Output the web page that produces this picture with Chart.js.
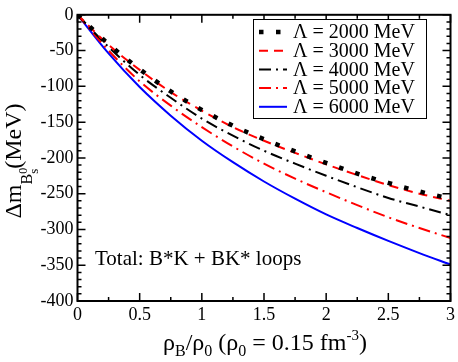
<!DOCTYPE html>
<html>
<head>
<meta charset="utf-8">
<script src="https://cdn.jsdelivr.net/npm/chart.js@4.4.1/dist/chart.umd.min.js"></script>
<style>
   html, body { margin: 0; padding: 0; background: #fff; }
   #wrap { width: 458px; height: 362px; }
   .fontwarm { position: absolute; left: -999px; top: 0; font-family: "Liberation Serif", serif; font-size: 20px; }
</style>
</head>
<body>
<span class="fontwarm">&#923; = 2000 MeV &#961; &#916;m</span>
<div id="wrap"><canvas id="shiftChart" width="458" height="362"></canvas></div>
<script>
// density rho_B / rho_0
const densities = [0, 0.25, 0.5, 0.75, 1, 1.25, 1.5, 1.75, 2, 2.25, 2.5, 2.75, 3];

// mass shift of B_s^0 (MeV), one list per cutoff
const shift2000 = [0, -41, -76, -107, -133, -155, -174, -191, -207, -222, -235, -247, -257];
const shift3000 = [0, -42, -77, -108, -134, -157, -176, -193, -209, -224, -238, -250, -260];
const shift4000 = [0, -45, -84, -116, -145, -169, -190, -208, -225, -241, -256, -268, -280];
const shift5000 = [0, -50, -93, -127, -157, -184, -208, -229, -248, -266, -283, -298, -312];
const shift6000 = [0, -54, -101, -141, -176, -206, -233, -257, -279, -298, -316, -333, -349];

const legendLabels = ["\u039B = 2000 MeV", "\u039B = 3000 MeV", "\u039B = 4000 MeV", "\u039B = 5000 MeV", "\u039B = 6000 MeV"];
const xTicks = [0, 0.5, 1, 1.5, 2, 2.5, 3];
const yTicks = [0, -50, -100, -150, -200, -250, -300, -350, -400];

const SERIF = "'Liberation Serif', 'Times New Roman', 'DejaVu Serif', serif";

const toPoints = (arr) => arr.map((v, i) => ({ x: densities[i], y: v }));

// draws a row of text pieces (sub / superscripts) centred on cx
function richText(ctx, pieces, cx, cy) {
   let total = 0;
   pieces.forEach((p) => {
      ctx.font = p.size + "px " + SERIF;
      if (p.adv !== false) total += ctx.measureText(p.t).width;
   });
   let x = cx - total / 2;
   pieces.forEach((p) => {
      ctx.font = p.size + "px " + SERIF;
      ctx.fillText(p.t, x, cy + (p.dy || 0));
      if (p.adv !== false) x += ctx.measureText(p.t).width;
   });
}

const decor = {
   id: "decor",
   afterDraw(chart) {
      const { ctx, chartArea: a, scales } = chart;
      const xs = scales.x;
      const ys = scales.y;
      ctx.save();

      // frame
      ctx.strokeStyle = "#000";
      ctx.lineWidth = 2;
      ctx.strokeRect(a.left, a.top, a.right - a.left, a.bottom - a.top);

      // inward ticks on all four sides
      ctx.lineWidth = 1.5;
      ctx.beginPath();
      for (let i = 0; i <= 12; i++) {
         const px = xs.getPixelForValue(i * 0.25);
         const len = i % 2 === 0 ? 8 : 4;
         ctx.moveTo(px, a.bottom); ctx.lineTo(px, a.bottom - len);
         ctx.moveTo(px, a.top); ctx.lineTo(px, a.top + len);
      }
      for (let i = 0; i <= 40; i++) {
         const py = ys.getPixelForValue(-i * 10);
         const len = i % 5 === 0 ? 8 : 4;
         ctx.moveTo(a.left, py); ctx.lineTo(a.left + len, py);
         ctx.moveTo(a.right, py); ctx.lineTo(a.right - len, py);
      }
      ctx.stroke();

      // legend
      const lx = 253, ly = 19, lw = 173, lh = 99;
      ctx.fillStyle = "#fff";
      ctx.fillRect(lx, ly, lw, lh);
      ctx.lineWidth = 1;
      ctx.strokeStyle = "#000";
      ctx.strokeRect(lx + 0.5, ly + 0.5, lw, lh);
      chart.data.datasets.forEach((ds, i) => {
         const rowY = 32 + i * 18.7;
         ctx.save();
         ctx.strokeStyle = ds.borderColor;
         ctx.lineWidth = ds.borderWidth;
         ctx.setLineDash(ds.borderDash || []);
         ctx.beginPath();
         ctx.moveTo(259, rowY);
         ctx.lineTo(287, rowY);
         ctx.stroke();
         ctx.restore();
         ctx.fillStyle = "#000";
         ctx.font = "20px " + SERIF;
         ctx.textBaseline = "middle";
         ctx.fillText(legendLabels[i], 293, rowY + 1);
      });

      // annotation
      ctx.textBaseline = "alphabetic";
      ctx.fillStyle = "#000";
      ctx.font = "21px " + SERIF;
      ctx.fillText("Total: B*K + BK* loops", 95, 265);

      // x title
      richText(ctx, [
         { t: "\u03C1", size: 24 },
         { t: "B", size: 16, dy: 6 },
         { t: "/\u03C1", size: 24 },
         { t: "0", size: 16, dy: 6 },
         { t: " (\u03C1", size: 24 },
         { t: "0", size: 16, dy: 6 },
         { t: " = 0.15 fm", size: 24 },
         { t: "-3", size: 15, dy: -10 },
         { t: ")", size: 24 },
      ], 265, 350);

      // y title (rotated)
      ctx.translate(21, 161);
      ctx.rotate(-Math.PI / 2);
      richText(ctx, [
         { t: "\u0394m", size: 24 },
         { t: "B", size: 16, dy: 11 },
         { t: "0", size: 12, dy: 6, adv: false },
         { t: "s", size: 13, dy: 17 },
         { t: "(MeV)", size: 24 },
      ], 0, 0);

      ctx.restore();
   },
};

const lineStyle = (data, color, width, dash) => ({
   data: toPoints(data),
   borderColor: color,
   borderWidth: width,
   borderDash: dash,
   borderCapStyle: "butt",
   pointRadius: 0,
   fill: false,
   cubicInterpolationMode: "monotone",
});

const chart = new Chart(document.getElementById("shiftChart"), {
   type: "line",
   data: {
      datasets: [
         lineStyle(shift2000, "#000000", 4.5, [4.5, 12.5]),
         lineStyle(shift3000, "#ff0000", 2, [9, 6]),
         lineStyle(shift4000, "#000000", 2, [12, 5, 2, 5]),
         lineStyle(shift5000, "#ff0000", 2, [12, 5, 2, 5]),
         lineStyle(shift6000, "#0000ff", 2, []),
      ],
   },
   options: {
      responsive: false,
      animation: false,
      events: [],
      layout: { padding: { top: 8, right: 6, left: 0, bottom: 0 } },
      plugins: { legend: { display: false }, tooltip: { enabled: false } },
      scales: {
         x: {
            type: "linear",
            min: 0,
            max: 3,
            afterBuildTicks: (s) => { s.ticks = xTicks.map((v) => ({ value: v })); },
            afterFit: (s) => { s.height = 61; },
            grid: { display: false, drawTicks: false },
            border: { display: false },
            ticks: { padding: 3, color: "#000", maxRotation: 0, callback: (v) => String(v), font: { family: SERIF, size: 18 } },
         },
         y: {
            min: -400,
            max: 0,
            afterBuildTicks: (s) => { s.ticks = yTicks.map((v) => ({ value: v })); },
            afterFit: (s) => { s.width = 77.5; },
            grid: { display: false, drawTicks: false },
            border: { display: false },
            ticks: { padding: 4, color: "#000", callback: (v) => String(v), font: { family: SERIF, size: 18 } },
         },
      },
   },
   plugins: [decor],
});

// redraw once the serif font is surely available to the canvas
if (document.fonts && document.fonts.load) {
   Promise.all([
      document.fonts.load("18px 'Liberation Serif'"),
      document.fonts.load("24px 'Liberation Serif'"),
   ]).then(() => chart.update()).catch(() => chart.update());
}
</script>
</body>
</html>
